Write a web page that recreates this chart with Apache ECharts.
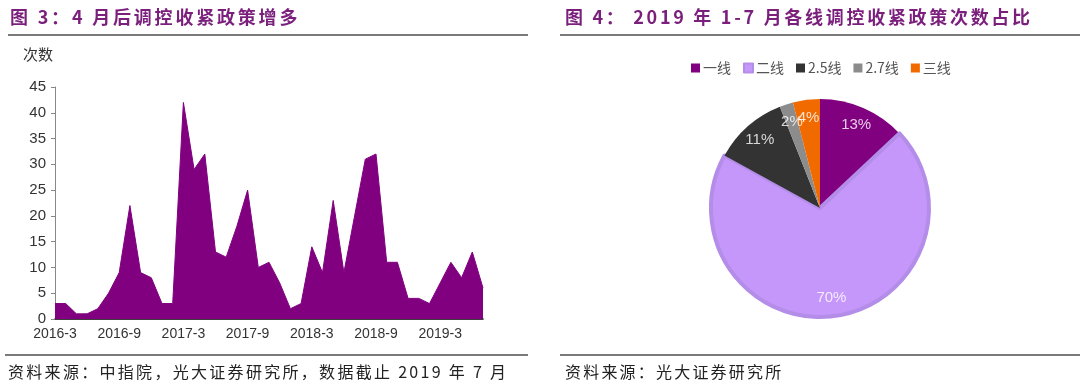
<!DOCTYPE html>
<html>
<head>
<meta charset="utf-8">
<script src="https://cdn.jsdelivr.net/npm/echarts@6/dist/echarts.min.js"></script>
<style>
html,body{margin:0;padding:0;background:#fff;}
#wrap{position:relative;width:1080px;height:385px;overflow:hidden;font-family:"Noto Sans CJK SC","Liberation Sans",sans-serif;}
#chart{position:absolute;left:0;top:0;width:1080px;height:385px;}
.title{position:absolute;top:3px;font-size:18px;font-weight:bold;color:#7B1F7D;letter-spacing:2.8px;white-space:nowrap;}
.rule{position:absolute;height:2px;background:#7a7a7a;}
.src{position:absolute;top:359px;font-size:16px;color:#222;letter-spacing:2.3px;white-space:nowrap;}
.yname{position:absolute;left:23px;top:43px;font-size:15px;color:#333;}
</style>
</head>
<body>
<div id="wrap">
  <div id="chart"></div>
  <div class="title" style="left:10px;">图 3：4 月后调控收紧政策增多</div>
  <div class="title" style="left:565px;letter-spacing:2.7px;">图 4： 2019 年 1-7 月各线调控收紧政策次数占比</div>
  <div class="rule" style="left:8px;width:520px;top:34px;"></div>
  <div class="rule" style="left:560px;width:520px;top:34px;"></div>
  <div class="rule" style="left:5px;width:523px;top:354px;"></div>
  <div class="rule" style="left:560px;width:520px;top:354px;"></div>
  <div class="yname" id="yname"></div>
  <div class="src" style="left:8px;">资料来源：中指院，光大证券研究所，数据截止 2019 年 7 月</div>
  <div class="src" style="left:565px;letter-spacing:2.2px;">资料来源：光大证券研究所</div>
</div>
<script>
// ---- Data ----
const months = [
  "2016-3","2016-4","2016-5","2016-6","2016-7","2016-8","2016-9","2016-10","2016-11","2016-12",
  "2017-1","2017-2","2017-3","2017-4","2017-5","2017-6","2017-7","2017-8","2017-9","2017-10","2017-11","2017-12",
  "2018-1","2018-2","2018-3","2018-4","2018-5","2018-6","2018-7","2018-8","2018-9","2018-10","2018-11","2018-12",
  "2019-1","2019-2","2019-3","2019-4","2019-5","2019-6","2019-7"
];
const policyCounts = [
  3,3,1,1,2,5,9,22,9,8,
  3,3,42,29,32,13,12,18,25,10,11,7,
  2,3,14,9,23,9,20,31,32,11,11,4,
  4,3,7,11,8,13,6
];
const yTicks = [0,5,10,15,20,25,30,35,40,45];
const yAxisName = "次数";

const tierNames = ["一线","二线","2.5线","2.7线","三线"];
const tierShares = [13,70,11,2,4];
const tierColors = ["#800080","#C597FB","#333333","#8C8C8C","#F06A00"];

document.getElementById('yname').textContent = yAxisName;

// ---- Chart ----
const chart = echarts.init(document.getElementById('chart'), null, {renderer:'canvas'});
const latin = '"Liberation Sans", Arial, sans-serif';
const cjk = '"Noto Sans CJK SC", "Liberation Sans", sans-serif';

const PIE_R = 109, LABEL_R = 91;
const total = tierShares.reduce((a,b)=>a+b,0);

const pieMain = tierNames.map((n,i)=>{
  const item = {name:n, value:tierShares[i], itemStyle:{color:tierColors[i]}};
  if (i===1) item.itemStyle = {color:tierColors[i], borderColor:'#B48DE8', borderWidth:4};
  return item;
});

// label anchors: mid-angle of each slice (in share units), placed by the polar axes
let cum = 0;
const labelPoints = tierShares.map((v,i)=>{
  const mid = cum + v/2; cum += v;
  return {value:[LABEL_R, mid], share:v};
});

chart.setOption({
  animation:false,
  textStyle:{fontFamily:latin},
  grid:{left:55, right:597, top:87, bottom:66, containLabel:false},
  polar:{center:[820,208], radius:PIE_R},
  angleAxis:{type:'value', min:0, max:total, startAngle:90, clockwise:true, show:false},
  radiusAxis:{type:'value', min:0, max:PIE_R, show:false},
  xAxis:{
    type:'category', data:months, boundaryGap:false,
    axisLine:{lineStyle:{color:'#000', width:1.5}},
    axisTick:{show:true, inside:true, length:3, interval:5, lineStyle:{color:'#000'}},
    axisLabel:{interval:5, color:'#333', fontSize:14, fontFamily:latin, margin:8}
  },
  yAxis:{
    type:'value', min:yTicks[0], max:yTicks[yTicks.length-1], interval:5,
    splitLine:{show:false},
    axisLine:{show:true, lineStyle:{color:'#888'}},
    axisTick:{show:true, length:4, lineStyle:{color:'#888'}},
    axisLabel:{color:'#333', fontSize:15, fontFamily:latin, margin:9}
  },
  legend:{
    data:tierNames, top:56, left:686,
    itemWidth:9, itemHeight:9, itemGap:12, icon:'rect',
    textStyle:{color:'#555', fontSize:14, fontFamily:cjk, padding:[0,0,0,-2]},
    selectedMode:false
  },
  series:[
    {
      type:'line', data:policyCounts, symbol:'none',
      lineStyle:{width:1, color:'#800080'},
      areaStyle:{color:'#800080', opacity:1},
      silent:true, z:2
    },
    {
      type:'pie', center:[820,208], radius:[0,PIE_R], startAngle:90, clockwise:true,
      data:pieMain, label:{show:false}, labelLine:{show:false}, silent:true,
      emphasis:{disabled:true}
    },
    {
      type:'scatter', coordinateSystem:'polar', data:labelPoints,
      symbolSize:0, silent:true, z:10,
      label:{show:true, position:'inside', color:'#fff', fontSize:15, fontFamily:latin,
        formatter:(p)=>p.data.share+'%'}
    }
  ]
});
</script>
</body>
</html>
